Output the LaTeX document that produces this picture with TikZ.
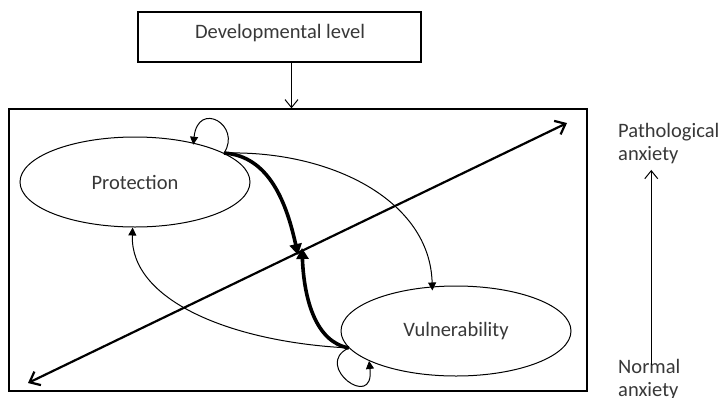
\documentclass[tikz,border=0pt]{standalone}
\usepackage{fontspec}
\setmainfont{Carlito}
\usetikzlibrary{arrows.meta,shapes.geometric}
\begin{document}
\begin{tikzpicture}[x=1pt,y=-1pt,
  txt/.style={text=black!78,font=\fontsize{20.5}{23}\selectfont},
  oval/.style={ellipse,draw,line width=1pt,minimum width=230pt,minimum height=90pt,inner sep=0pt,txt},
  thin/.style={line width=1pt,-{Triangle[length=8pt,width=8pt]}},
  thick/.style={line width=3.6pt,-{Triangle[length=11pt,width=12pt]}},
  openarrow/.style={line width=1pt,-{Straight Barb[length=8pt,width=13pt]}}]
\useasboundingbox[fill=white] (0,0) rectangle (719,397);

% boxes
\node[draw,line width=1.2pt,minimum width=283pt,minimum height=50pt,inner sep=0pt] (dev) at (279.5,37) {};
\node[txt] (devtxt) at (280,33) {Developmental level};
\node[draw,line width=1.3pt,minimum width=578pt,minimum height=282pt,inner sep=0pt] (frame) at (298,250) {};

% the two states
\node[oval] (prot) at (135,182) {Protection};
\node[oval] (vul) at (456,331) {Vulnerability};

% anxiety axis on the right
\node[txt,anchor=north west,align=left,inner sep=0pt] (patho) at (618,123) {Pathological\\anxiety};
\node[txt,anchor=north west,align=left,inner sep=0pt] (normal) at (618,359) {Normal\\anxiety};
\draw[openarrow] ([shift={(2pt,-6pt)}]normal.north) -- ([shift={(2pt,-6pt)}]normal.north |- patho.south);

% developmental influence
\draw[openarrow] ([xshift=12pt]dev.south) -- ([xshift=12pt]dev.south |- frame.north);

% diagonal continuum
\coordinate (lowend) at (28,383);
\coordinate (highend) at (567,123);
\coordinate (cross) at (300,253);
\draw[line width=2.2pt,{Straight Barb[length=9pt,width=15pt]}-{Straight Barb[length=9pt,width=15pt]}] (lowend) -- (highend);

% strong links towards the centre
\draw[thick] (prot.18) .. controls (270,156) and (287,205) .. ([shift={(-2pt,-2pt)}]cross);
\draw[thick] (vul.189) .. controls (316,342) and (304,300) .. ([shift={(2pt,5pt)}]cross);

% cross links
\draw[thin] (prot.18) .. controls (330,150) and (430,200) .. ([yshift=-4pt]vul.118);
\draw[thin] (vul.189) .. controls (230,342) and (130,300) .. (prot.-93);

% self loops
\draw[thin] (prot.18) .. controls (242,125) and (198,100) .. ([yshift=-2pt]prot.34);
\draw[thin] (vul.189) .. controls (312,365) and (375,412) .. (vul.199);
\end{tikzpicture}
\end{document}
